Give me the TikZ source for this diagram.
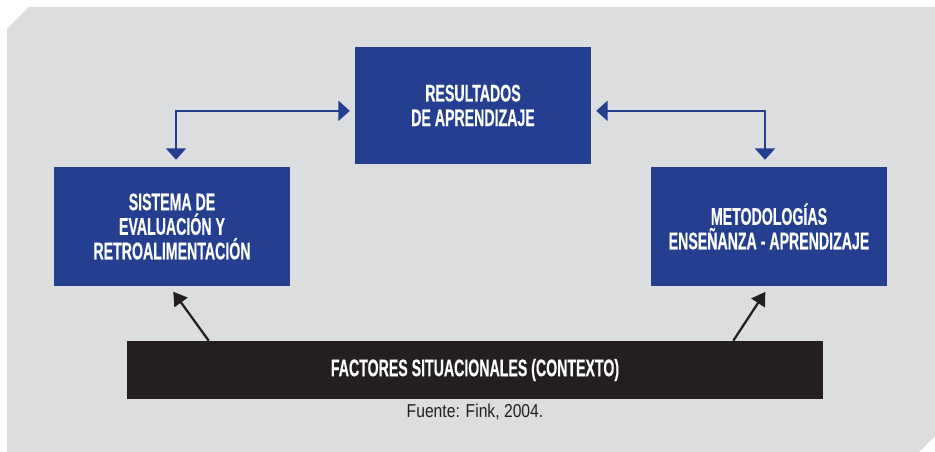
\documentclass[tikz,border=0pt]{standalone}
\usepackage{fontspec}
\setmainfont{Liberation Sans}
\newfontfamily\condfont[FakeStretch=0.59, FakeBold=0.4]{Liberation Sans}
\newfontfamily\srcfont[FakeStretch=0.84]{Liberation Sans}
\usetikzlibrary{arrows.meta}

\definecolor{bggray}{HTML}{DCDDDF}
\definecolor{boxblue}{HTML}{243F8F}
\definecolor{boxblack}{HTML}{231F20}

\tikzset{
  bluebox/.style={fill=boxblue, text=white, align=center, inner sep=0pt,
    minimum width=177pt, minimum height=89.25pt,
    font=\condfont\bfseries\fontsize{18}{18.4}\selectfont},
  ctxbox/.style={fill=boxblack, text=white, inner sep=0pt,
    minimum width=522pt, minimum height=43.5pt,
    font=\condfont\bfseries\fontsize{18}{18.4}\selectfont},
  bluelink/.style={draw=boxblue, line width=1.5pt,
    {Triangle[width=15pt,length=8.5pt]}-{Triangle[width=15pt,length=8.5pt]},
    shorten <=3.75pt, shorten >=5.25pt},
  ctxlink/.style={draw=boxblack, line width=1.7pt,
    -{Triangle[width=12pt,length=10pt]}, shorten >=5pt}
}

\begin{document}
\begin{tikzpicture}[x=0.75pt, y=-0.75pt]
  \useasboundingbox (0,0) rectangle (935,452);
  \fill[bggray] (7,29) -- (29,7) -- (935,7) -- (935,436) -- (919,452) -- (7,452) -- cycle;

  \node[bluebox, minimum height=87.75pt] (res) at (473,105.5) {RESULTADOS\\DE APRENDIZAJE};
  \node[bluebox] (eval) at (172,226.5) {SISTEMA DE\\EVALUACIÓN Y\\RETROALIMENTACIÓN};
  \node[bluebox] (meto) at (769,226.5) {METODOLOGÍAS\\ENSEÑANZA - APRENDIZAJE};
  \node[ctxbox] (ctx) at (475,370) {FACTORES SITUACIONALES (CONTEXTO)};
  \node[text=boxblack, font=\srcfont\fontsize{14}{16}\selectfont] (src) at (475,412) {Fuente: Fink, 2004.};

  % links
  \draw[bluelink] ([yshift=-4pt]res.west) -| ([xshift=3pt]eval.north);
  \draw[bluelink] ([yshift=-4pt]res.east) -| ([xshift=-3pt]meto.north);
  \draw[ctxlink] ([xshift=61.5pt]ctx.north west) -- ([xshift=-2pt]eval.south);
  \draw[ctxlink] ([xshift=-67.5pt]ctx.north east) -- (meto.south);
\end{tikzpicture}
\end{document}
